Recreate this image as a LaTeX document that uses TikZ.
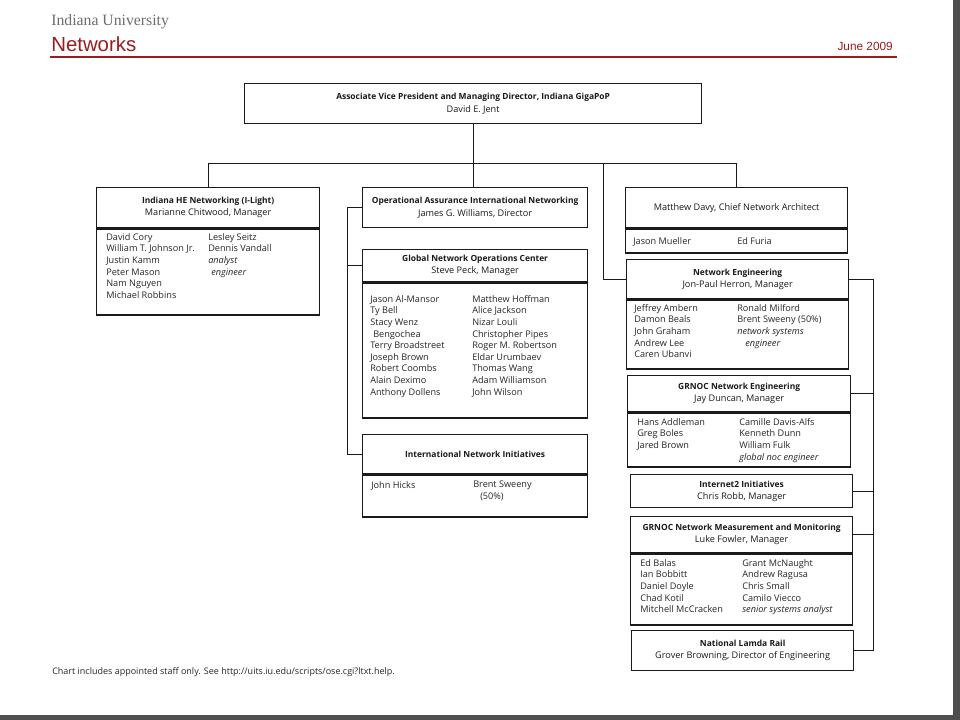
\documentclass[tikz,border=0pt]{standalone}
\usepackage{fontspec}
\setmainfont{Open Sans}
\newfontfamily\iuserif{Liberation Serif}
\newfontfamily\iusans{Liberation Sans}
\usetikzlibrary{calc}
\definecolor{iured}{HTML}{9A1C20}
\definecolor{ink}{HTML}{1A1A1A}
\definecolor{staffc}{HTML}{262626}
\definecolor{uni}{HTML}{6E6E6E}
\definecolor{frame}{HTML}{4F4F4F}
\newlength\pxl
\setlength\pxl{0.025cm}
\newcommand\hd[1]{{\fontsize{6}{8.6}\selectfont\bfseries #1}}
\tikzset{
  unit/.style={draw=ink, line width=0.9pt, anchor=north west, inner sep=0pt,
    align=center, text=ink, font=\fontsize{6.5}{8.6}\selectfont},
  sz/.style 2 args={minimum width=#1\pxl, minimum height=#2\pxl},
  conn/.style={draw=ink, line width=0.7pt},
  staff/.style={anchor=north west, inner sep=0pt, align=left, text=staffc,
    font=\fontsize{6.5}{8.25}\selectfont},
}

\begin{document}
\begin{tikzpicture}[x=0.025cm, y=-0.025cm]
  \useasboundingbox (0,0) rectangle (960,720);
  \fill[white] (0,0) rectangle (960,720);

  % page header
  \node[anchor=west, inner sep=0pt, text=uni, font=\iuserif\fontsize{11.2}{12}\selectfont] (iu) at (51,22) {Indiana University};
  \node[anchor=west, inner sep=0pt, text=iured, font=\iusans\fontsize{14.5}{16}\selectfont] (title) at (51,44) {Networks};
  \node[anchor=east, inner sep=0pt, text=iured, font=\iusans\fontsize{8.4}{10}\selectfont] (date) at (893,46) {June 2009};
  \draw[iured, line width=1.5pt] (50,57) -- (897,57);

  % director
  \node[unit, sz={457}{40}] (avp) at (244,83) {\hd{Associate Vice President and Managing Director, Indiana GigaPoP}\\David E. Jent};

  % left column
  \node[unit, sz={223}{40}] (heb) at (96,187) {\hd{Indiana HE Networking (I-Light)}\\Marianne Chitwood, Manager};
  \node[unit, sz={223}{86}] (hebB) at (heb.south west) {};
  \node[staff] (hebL) at (106,233) {David Cory\\William T. Johnson Jr.\\Justin Kamm\\Peter Mason\\Nam Nguyen\\Michael Robbins};
  \node[staff] (hebR) at (208,233) {Lesley Seitz\\Dennis Vandall\\\textit{analyst}\\\hspace*{3\pxl}\textit{engineer}};

  % middle column
  \node[unit, sz={225}{40}] (oa) at (362,187) {\hd{Operational Assurance International Networking}\\James G. Williams, Director};
  \node[unit, sz={225}{32}] (gnoc) at (362,249) {\hd{Global Network Operations Center}\\Steve Peck, Manager};
  \node[unit, sz={225}{135}] (gnocB) at (gnoc.south west) {};
  \node[staff] (gnocL) at (370,295) {Jason Al-Mansor\\Ty Bell\\Stacy Wenz\\\hspace*{3\pxl}Bengochea\\Terry Broadstreet\\Joseph Brown\\Robert Coombs\\Alain Deximo\\Anthony Dollens};
  \node[staff] (gnocR) at (472,295) {Matthew Hoffman\\Alice Jackson\\Nizar Louli\\Christopher Pipes\\Roger M. Robertson\\Eldar Urumbaev\\Thomas Wang\\Adam Williamson\\John Wilson};
  \node[unit, sz={225}{39}] (ini) at (362,434) {\hd{International Network Initiatives}};
  \node[unit, sz={225}{42}] (iniB) at (ini.south west) {};
  \node[staff] (iniL) at (371,481) {John Hicks};
  \node[staff] (iniR) at (473,481) {Brent Sweeny\\\hspace*{7\pxl}(50\%)};

  % right column
  \node[unit, sz={222}{40}] (davy) at (625,187) {Matthew Davy, Chief Network Architect};
  \node[unit, sz={222}{24}] (davyB) at (davy.south west) {};
  \node[staff] (davyL) at (633,237) {Jason Mueller};
  \node[staff] (davyR) at (737,237) {Ed Furia};

  \node[unit, sz={222}{39}] (ne) at (626,259) {\hd{Network Engineering}\\Jon-Paul Herron, Manager};
  \node[unit, sz={222}{69}] (neB) at (ne.south west) {};
  \begin{scope}
    \clip (626,298) rectangle (848,356.5);
    \node[staff] (neL) at (634,304) {Jeffrey Ambern\\Damon Beals\\John Graham\\Andrew Lee\\Caren Ubanyi};
  \end{scope}
  \node[staff] (neR) at (737,304) {Ronald Milford\\Brent Sweeny (50\%)\\\textit{network systems}\\\hspace*{8\pxl}\textit{engineer}};

  \node[unit, sz={223}{36}] (gne) at (627,375) {\hd{GRNOC Network Engineering}\\Jay Duncan, Manager};
  \node[unit, sz={223}{54}] (gneB) at (gne.south west) {};
  \node[staff] (gneL) at (637,418) {Hans Addleman\\Greg Boles\\Jared Brown};
  \node[staff] (gneR) at (739,418) {Camille Davis-Alfs\\Kenneth Dunn\\William Fulk\\\textit{global noc engineer}};

  \node[unit, sz={222}{33}] (i2) at (630,474) {\hd{Internet2 Initiatives}\\Chris Robb, Manager};

  \node[unit, sz={222}{36}] (gmm) at (630,516) {\hd{GRNOC Network Measurement and Monitoring}\\Luke Fowler, Manager};
  \node[unit, sz={222}{71}] (gmmB) at (gmm.south west) {};
  \node[staff] (gmmL) at (640,559) {Ed Balas\\Ian Bobbitt\\Daniel Doyle\\Chad Kotil\\Mitchell McCracken};
  \node[staff] (gmmR) at (742,559) {Grant McNaught\\Andrew Ragusa\\Chris Small\\Camilo Viecco\\\textit{senior systems analyst}};

  \node[unit, sz={222}{40}] (nlr) at (631,630) {\hd{National Lamda Rail}\\Grover Browning, Director of Engineering};

  % connectors
  \coordinate (bus) at (0,163);
  \coordinate (nedrop) at (603,163);
  \coordinate (lspine) at (347,0);
  \coordinate (rspine) at (873,0);
  \draw[conn] (avp.south) -- (avp.south |- oa.north);
  \draw[conn] (heb.north) -- (heb.north |- bus) -- (davy.north |- bus) -- (davy.north);
  \draw[conn] (nedrop) |- (ne.west);
  \draw[conn] (oa.west) -- (oa.west -| lspine) -- (ini.west -| lspine) -- (ini.west);
  \draw[conn] (gnoc.west) -- (gnoc.west -| lspine);
  \draw[conn] (ne.east) -- (ne.east -| rspine) -- (nlr.east -| rspine) -- (nlr.east);
  \foreach \b in {gne,i2,gmm}
    \draw[conn] (\b.east) -- (\b.east -| rspine);

  % footnote
  \node[anchor=west, inner sep=0pt, text=staffc, font=\fontsize{6.4}{8}\selectfont] (note) at (52,672) {Chart includes appointed staff only. See http://uits.iu.edu/scripts/ose.cgi?ltxt.help.};

  % slide frame
  \fill[frame] (953,0) rectangle (960,720);
  \fill[frame] (0,715) rectangle (960,720);
\end{tikzpicture}
\end{document}
